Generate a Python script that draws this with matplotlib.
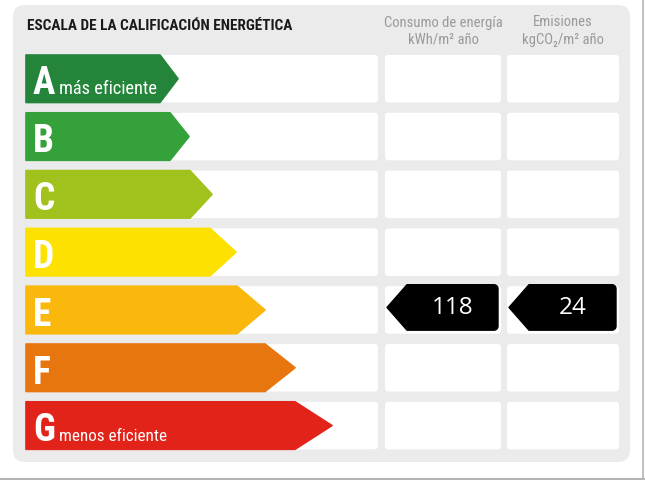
import matplotlib
matplotlib.use('Agg')
import matplotlib.pyplot as plt
from matplotlib.patches import FancyBboxPatch, Polygon
from matplotlib import font_manager
import numpy as np

# ---------------- data ----------------
ratings = ['A', 'B', 'C', 'D', 'E', 'F', 'G']
rating_colors = ['#23843a', '#34a13a', '#a1c21c', '#fde100', '#fab70c', '#e8760f', '#e2231a']
arrow_body_ends = [160, 170, 190, 210, 237, 265, 295]
arrow_tips = [178, 189, 212, 236, 265, 295, 332]
sub_labels = {'A': 'más eficiente', 'G': 'menos eficiente'}
title = 'ESCALA DE LA CALIFICACIÓN ENERGÉTICA'
col_headers = [('Consumo de energía', 'kWh/m² año'), ('Emisiones', 'kgCO₂/m² año')]
current_rating = 'E'
tag_values = ['118', '24']

# ---------------- layout ----------------
W, H = 645, 480
ROW0, PITCH, ROWH = 55, 57.8, 47.5
LEFT_X0, LEFT_X1 = 26, 378
COLS = [(385, 501), (507, 619)]

names = {f.name for f in font_manager.fontManager.ttflist}
if 'Liberation Sans Narrow' in names:
    NARROW = 'Liberation Sans Narrow'
elif 'Roboto Condensed' in names:
    NARROW = 'Roboto Condensed'
else:
    NARROW = 'Roboto'
DIGITS = 'Open Sans' if 'Open Sans' in names else 'DejaVu Sans'

fig = plt.figure(figsize=(W / 100, H / 100), dpi=100)
fig.patch.set_facecolor('white')
ax = fig.add_axes([0, 0, 1, 1])
ax.set_xlim(0, W)
ax.set_ylim(H, 0)
ax.axis('off')
renderer = fig.canvas.get_renderer()


def fit_text(x, y, s, w, cap, **kw):
    t = ax.text(x, y, s, fontsize=cap, **kw)
    bb = t.get_window_extent(renderer)
    size = min(cap, cap * w / bb.width)
    t.set_fontsize(size)
    return t


# outer frame lines (right & bottom)
ax.plot([W - 2, W - 2], [0, H], color='#b5b5b5', lw=1.2, solid_capstyle='butt')
ax.plot([0, W], [H - 1.5, H - 1.5], color='#b5b5b5', lw=1.5, solid_capstyle='butt')

# panel background
ax.add_patch(FancyBboxPatch((13, 5), 617, 457, boxstyle='round,pad=0,rounding_size=12',
                            fc='#ecebeb', ec='none'))

# title and headers
fit_text(27, 29.5, title, 266, 11.5, fontfamily=NARROW, fontweight='black', color='#1a1a1a',
         ha='left', va='baseline')
for (x0, x1), (l1, l2) in zip(COLS, col_headers):
    cx = (x0 + x1) / 2
    ax.text(cx, 26.5, l1, fontsize=10.5, fontfamily=NARROW, color='#9a9a9a', ha='center', va='baseline')
    ax.text(cx, 44, l2, fontsize=10.5, fontfamily=NARROW, color='#9a9a9a', ha='center', va='baseline')

cur_idx = ratings.index(current_rating)

for i, r in enumerate(ratings):
    top = ROW0 + i * PITCH
    bot = top + ROWH
    mid = (top + bot) / 2
    # white cells
    ax.add_patch(FancyBboxPatch((LEFT_X0, top), LEFT_X1 - LEFT_X0, ROWH,
                                boxstyle='round,pad=0,rounding_size=3', fc='white', ec='none'))
    for (x0, x1) in COLS:
        ax.add_patch(FancyBboxPatch((x0, top), x1 - x0, ROWH,
                                    boxstyle='round,pad=0,rounding_size=3', fc='white', ec='none'))
    # arrow
    body = arrow_body_ends[i]
    tip = arrow_tips[i]
    ax.add_patch(Polygon([(LEFT_X0, top), (body, top), (tip, mid), (body, bot), (LEFT_X0, bot)],
                         closed=True, fc=rating_colors[i], ec=rating_colors[i], lw=1.2,
                         joinstyle='round'))
    # letter
    lt = fit_text(33, bot - 8, r, 24, 27, fontfamily=NARROW, fontweight='black', color='white',
                  ha='left', va='baseline')
    if r in sub_labels:
        bb = lt.get_window_extent(renderer)
        xr = ax.transData.inverted().transform((bb.x1, bb.y0))[0]
        fit_text(xr + 4, bot - 8.5, sub_labels[r], 98 if r == 'A' else 108, 13.5,
                 fontfamily=NARROW, color='white', ha='left', va='baseline')

# value tags
top = ROW0 + cur_idx * PITCH - 1.5
bot = top + 45.5
mid = (top + bot) / 2
for (x0, x1), val in zip(COLS, tag_values):
    tipx = x0 + 2
    left = tipx + 20
    right = x1 - 3
    rr = 4
    pts = [(tipx, mid), (left, top), (right - rr, top)]
    a = np.linspace(-np.pi / 2, 0, 8)
    pts += [(right - rr + rr * np.cos(t), top + rr + rr * np.sin(t)) for t in a]
    a = np.linspace(0, np.pi / 2, 8)
    pts += [(right - rr + rr * np.cos(t), bot - rr + rr * np.sin(t)) for t in a]
    pts += [(left, bot)]
    ax.add_patch(Polygon(pts, closed=True, fc='black', ec='black', lw=1, joinstyle='round'))
    ax.text((left + right) / 2, mid + 1, val, fontsize=17.5, fontfamily=DIGITS, color='white',
            ha='center', va='center')

fig.savefig('out.png', dpi=100, facecolor='white')
